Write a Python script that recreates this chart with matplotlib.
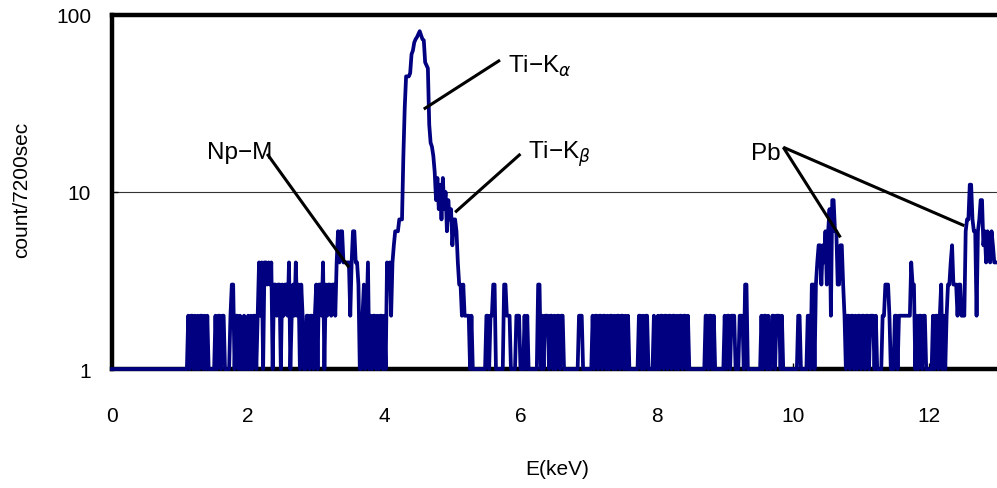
import numpy as np
import matplotlib
matplotlib.use('Agg')
import matplotlib.pyplot as plt

plt.rcParams['font.family'] = ['Liberation Sans', 'DejaVu Sans']

# energy width of one channel (keV)
ch_width = 0.02

# counts per channel
counts_flat = [1] * 55
counts_low = [1, 2, 1, 2, 2, 1, 2, 1, 2, 1, 2, 2, 1, 2, 1, 2, 1, 1, 1, 1, 1,
              2, 1, 2, 2, 1, 2, 2, 1, 1, 1, 1, 2, 3, 3, 1, 2, 2,
              1, 2, 1, 1, 2, 1, 1, 2, 1, 2, 1, 2, 2, 1, 2,
              4, 2, 4, 1, 4, 4, 3, 4,
              3, 4, 1, 3, 3, 2, 3, 3, 1, 3, 2, 3, 3, 2, 4, 1, 2, 3, 2]
counts_np = [4, 2, 3, 1, 3, 2, 1, 1, 2, 2, 1, 2, 2,
             1, 2, 3, 1, 3, 3, 2, 4, 1, 3, 2, 3, 3, 2, 3, 3, 2,
             4, 6, 4, 6, 6, 4, 4, 4, 4, 4, 2, 4, 6, 6, 4, 4, 3, 1,
             1, 2, 3, 1, 2, 4, 1, 2, 1, 2, 2, 1, 2, 1, 2, 2, 1, 2, 1]
counts_ti = [4, 3, 4, 2, 4, 5, 6, 6, 6, 7, 7, 7,
             16, 30, 45, 45, 45, 47, 60, 63, 70, 73, 75, 78, 81, 77, 73, 72,
             54, 52, 50, 24, 19, 18, 16,
             13, 9, 12, 8, 11, 7, 12, 8, 10, 6, 9, 7, 8, 5, 7,
             7, 6, 4, 3, 3, 2, 3, 2, 2, 2, 2, 1]
counts_mid = [2, 1, 1, 1, 1, 1, 1, 1, 1, 1, 1, 2, 2, 1, 2, 2, 3, 3, 1,
              1, 1, 1, 1, 1, 3, 3, 2, 2, 2, 1, 1, 1, 1, 2, 2, 2, 1,
              1, 1, 2, 1, 2, 1, 1, 1, 1, 1, 1, 1, 3, 3, 1, 2, 1, 2, 2,
              2, 1, 2, 2, 1, 2, 1, 2, 2, 1, 2, 2, 1,
              1, 1, 1, 1, 1, 1, 1, 1, 1, 1, 2, 2, 2, 1, 1,
              1, 1, 1, 1, 1, 2, 1, 2, 2, 1, 2]
counts_flat2 = [2, 1, 2, 2, 1, 2, 1, 2, 2, 1, 2, 1, 2, 2, 1, 2, 2, 1, 2, 1, 2,
                1, 1, 1, 1, 1, 1, 1, 2, 2, 1, 2, 1, 2, 2, 1, 1, 1, 1, 2, 1, 1,
                2, 1, 2, 2, 1, 2, 2, 1, 2, 2, 1,
                2, 2, 1, 2, 1, 2, 2, 1, 2, 2, 1, 2, 1,
                1, 1, 1, 1, 1, 1, 1, 1, 1, 1, 1, 2, 2, 1, 2, 2, 1,
                2, 1, 1, 1, 1, 1, 1, 1, 2, 1, 2, 2, 1, 2, 2]
counts_pb1 = [2, 1, 1, 1, 2, 2, 2, 1, 3, 3, 1, 1, 1, 1, 1, 1, 1, 1, 1, 1,
              2, 1, 2, 2, 1, 2, 1, 1, 2, 2, 1, 2, 2, 2, 1, 2, 1,
              1, 1, 1, 1, 1, 1, 1, 1, 1, 1, 2, 2, 1, 1, 1, 1, 1, 2, 2, 1,
              3, 3, 1, 3, 4, 5, 5, 3, 5, 4, 6, 3, 6, 8, 2, 9, 9, 6,
              6, 3, 3, 5, 5, 3, 2, 1, 2,
              2, 1, 2, 2, 1, 2, 1, 2, 2, 1, 2]
counts_pb2 = [2, 1, 2, 2, 1, 2, 2, 2, 1, 2, 1, 1, 1, 1, 2, 2, 3, 3,
              3, 2, 1, 1, 1, 2, 2, 1, 2, 2, 2, 2, 2, 2, 2, 2,
              2, 4, 3, 3, 1, 2, 1, 2, 2, 1, 2, 2, 1, 1, 1, 1, 1,
              2, 1, 2, 2, 1, 2, 3, 1, 2, 1, 2, 3, 3, 4, 5, 3, 3,
              3, 2, 3, 3, 2, 2, 2, 6, 7, 7, 11, 11, 7, 6, 6, 2, 6,
              7, 9, 9, 5, 6, 4, 6, 5, 4, 6, 5, 4, 4]

counts = (counts_flat + counts_low + counts_np + counts_ti + counts_mid
          + counts_flat2 + counts_pb1 + counts_pb2)
energy = np.arange(len(counts)) * ch_width

# peak labels: text, text anchor, alignment, line start, line end(s)
labels = ['Np\u2212M', 'Ti\u2212K$_{\\alpha}$', 'Ti\u2212K$_{\\beta}$', 'Pb']
label_pos = [(2.35, 15.6), (5.82, 47.6), (6.11, 15.6), (9.82, 15.3)]
label_ha = ['right', 'left', 'left', 'right']
line_start = [(2.28, 16.4), (5.70, 55.6), (6.00, 16.4), (9.86, 17.9)]
line_ends = [[(3.48, 3.75)], [(4.58, 29.4)], [(5.04, 7.68)],
             [(10.70, 5.54), (12.52, 6.45)]]

fig = plt.figure(figsize=(9.97, 4.89), dpi=100)
ax = fig.add_axes([112 / 997, 1 - 370 / 489, 1 - 112 / 997, (370 - 16) / 489])

ax.plot(energy, counts, color='#000080', lw=2.7, zorder=3, clip_on=False)

ax.set_yscale('log')
ax.set_ylim(1, 100)
ax.set_xlim(0, 13)
ax.set_yticks([1, 10, 100])
ax.set_yticklabels(['1', '10', '100'])
ax.yaxis.set_minor_locator(matplotlib.ticker.NullLocator())
ax.set_xticks(np.arange(0, 13, 2))
ax.grid(axis='y', which='major', color='#333333', lw=0.8)

for side in ['left', 'top', 'bottom']:
    ax.spines[side].set_linewidth(3.2)
ax.spines['right'].set_visible(False)

ax.tick_params(axis='y', direction='in', length=4, width=1, pad=15, labelsize=15)
ax.tick_params(axis='x', direction='in', length=4, width=1, pad=27, labelsize=15)

for i in range(len(labels)):
    ax.text(label_pos[i][0], label_pos[i][1], labels[i], ha=label_ha[i],
            va='baseline', fontsize=17.5)
    for end in line_ends[i]:
        ax.plot([line_start[i][0], end[0]], [line_start[i][1], end[1]],
                color='black', lw=2.2, zorder=4, solid_capstyle='butt')

fig.text(557 / 997, 1 - 470 / 489, 'E(keV)', ha='center', va='center', fontsize=15)
fig.text(22 / 997, 1 - 190 / 489, 'count/7200sec', ha='center', va='center',
         rotation=90, fontsize=15)

fig.savefig('out.png', dpi=100)
